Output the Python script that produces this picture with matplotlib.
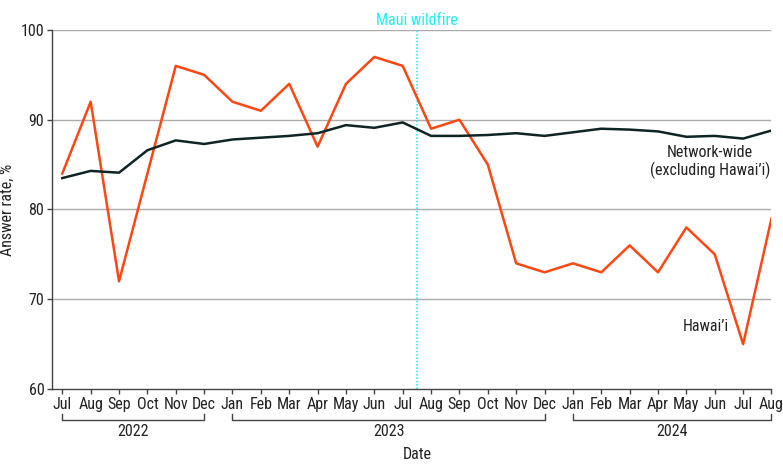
import matplotlib
matplotlib.use("Agg")
import matplotlib.pyplot as plt
import matplotlib.transforms as mtransforms

plt.rcParams['font.family'] = ['Roboto Condensed', 'Roboto', 'DejaVu Sans']

# month labels, Jul 2022 -> Aug 2024
months = ['Jul', 'Aug', 'Sep', 'Oct', 'Nov', 'Dec',
          'Jan', 'Feb', 'Mar', 'Apr', 'May', 'Jun', 'Jul', 'Aug', 'Sep', 'Oct', 'Nov', 'Dec',
          'Jan', 'Feb', 'Mar', 'Apr', 'May', 'Jun', 'Jul', 'Aug']

hawaii = [84, 92, 72, 84, 96, 95,
          92, 91, 94, 87, 94, 97, 96, 89, 90, 85, 74, 73,
          74, 73, 76, 73, 78, 75, 65, 79]

network = [83.5, 84.3, 84.1, 86.6, 87.7, 87.3,
           87.8, 88.0, 88.2, 88.5, 89.4, 89.1, 89.7, 88.2, 88.2, 88.3, 88.5, 88.2,
           88.6, 89.0, 88.9, 88.7, 88.1, 88.2, 87.9, 88.8]

# year brackets: (label, first index, last index)
years = [('2022', 0, 5), ('2023', 6, 17), ('2024', 18, 25)]
wildfire_x = 12.5

txt = '#222222'
fs = 11.5
x = list(range(len(months)))

fig = plt.figure(figsize=(7.83, 4.73), dpi=100)
ax = fig.add_axes([0.0664, 0.1776, 0.9189, 0.759])

for y in [70, 80, 90, 100]:
    ax.axhline(y, color='#ababab', lw=1.0, zorder=0)

ax.plot(x, network, color='#0f2424', lw=1.8, zorder=3)
ax.plot(x, hawaii, color='#ff4713', lw=1.8, zorder=2)

ax.axvline(wildfire_x, color='#3ee8f0', lw=1.2, ls=(0, (1, 1)), zorder=1)
ax.text(wildfire_x, 101.1, 'Maui wildfire', color='#22eef5', fontsize=11.5,
        ha='center', va='center')

ax.text(22.83, 85.3, 'Network-wide\n(excluding Hawai’i)', color=txt, fontsize=fs,
        ha='center', va='center', linespacing=1.1)
ax.text(22.68, 67.0, 'Hawai’i', color=txt, fontsize=fs, ha='center', va='center')

ax.set_xlim(-0.363, 25)
ax.set_ylim(60, 100)
ax.set_yticks([60, 70, 80, 90, 100])
ax.set_xticks(x)
ax.set_xticklabels(months)
ax.tick_params(axis='both', colors='#444444', labelcolor=txt, labelsize=fs, length=3.5, width=1)
ax.tick_params(axis='x', pad=2.5)
ax.tick_params(axis='y', pad=2)

for s in ['top', 'right']:
    ax.spines[s].set_visible(False)
for s in ['left', 'bottom']:
    ax.spines[s].set_color('#444444')
    ax.spines[s].set_linewidth(1.0)

ax.set_ylabel('Answer rate, %', fontsize=fs, color=txt, va='center')
ax.yaxis.set_label_coords(-0.062, 0.5)

trans = mtransforms.blended_transform_factory(ax.transData, ax.transAxes)
for label, i0, i1 in years:
    ax.plot([i0, i0, i1, i1], [-0.07, -0.087, -0.087, -0.07], color='#444444', lw=1.0,
            transform=trans, clip_on=False)
    ax.text((i0 + i1) / 2, -0.118, label, transform=trans, ha='center', va='center',
            fontsize=fs, color=txt)

ax.text(12.5, -0.182, 'Date', transform=trans, ha='center', va='center', fontsize=fs, color=txt)

fig.savefig('out.png', dpi=100)
